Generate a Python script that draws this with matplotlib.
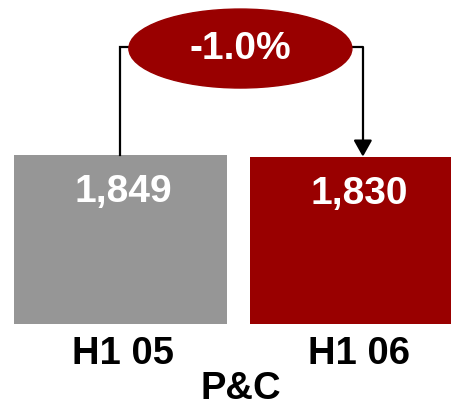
"""Two-bar P&C comparison with a change bubble."""

import matplotlib
matplotlib.use('Agg')
import matplotlib.pyplot as plt
from matplotlib.patches import Ellipse

periods = ['H1 05', 'H1 06']
values = [1849, 1830]
value_labels = ['1,849', '1,830']
change_label = '-1.0%'
group_label = 'P&C'
bar_colors = ['#969696', '#990000']

plt.rcParams['font.family'] = ['Liberation Sans', 'DejaVu Sans']
plt.rcParams['font.weight'] = 'bold'

fig = plt.figure(figsize=(4.52, 4.08), dpi=100)
ax = fig.add_axes([0, 0, 1, 1])
ax.axis('off')

x = list(range(len(values)))
ax.bar(x, values, width=0.9, color=bar_colors)
ax.set_xlim(-0.5106, 1.4047)
ax.set_ylim(-919, 3545)

# values inside the bars
for xi, v, lab in zip(x, values, value_labels):
    ax.annotate(lab, xy=(xi + 0.01, v), xytext=(0, -26.5),
                textcoords='offset points', ha='center', va='center',
                color='white', fontsize=28, fontweight='bold')

# period labels and group label under the bars
for xi, lab in zip(x, periods):
    ax.text(xi + 0.01, 0.132, lab, transform=ax.get_xaxis_transform(),
            ha='center', va='center', fontsize=27.5, fontweight='bold')
ax.text(0.508, 0.047, group_label, transform=ax.get_xaxis_transform(),
        ha='center', va='center', fontsize=27.5, fontweight='bold')

# change bubble with connector
yc = 3031
ex, ew = 0.508, 0.945
xr = 1.027
ax.plot([0, 0, ex - ew / 2], [values[0], yc, yc], color='black', lw=1.6,
        solid_joinstyle='miter', zorder=1)
ax.annotate('', xy=(xr, values[1]), xytext=(ex + ew / 2, yc),
            arrowprops=dict(arrowstyle='-|>,head_length=0.5,head_width=0.28',
                            connectionstyle='angle,angleA=0,angleB=90,rad=0',
                            lw=1.6, color='black', mutation_scale=20,
                            shrinkA=0, shrinkB=0), zorder=1)
ax.add_patch(Ellipse((ex, 3014), ew, 864, color='#990000', zorder=2))
ax.text(ex, 3014, change_label, ha='center', va='center', color='white',
        fontsize=28, fontweight='bold', zorder=3)

fig.savefig('out.png', dpi=100)
